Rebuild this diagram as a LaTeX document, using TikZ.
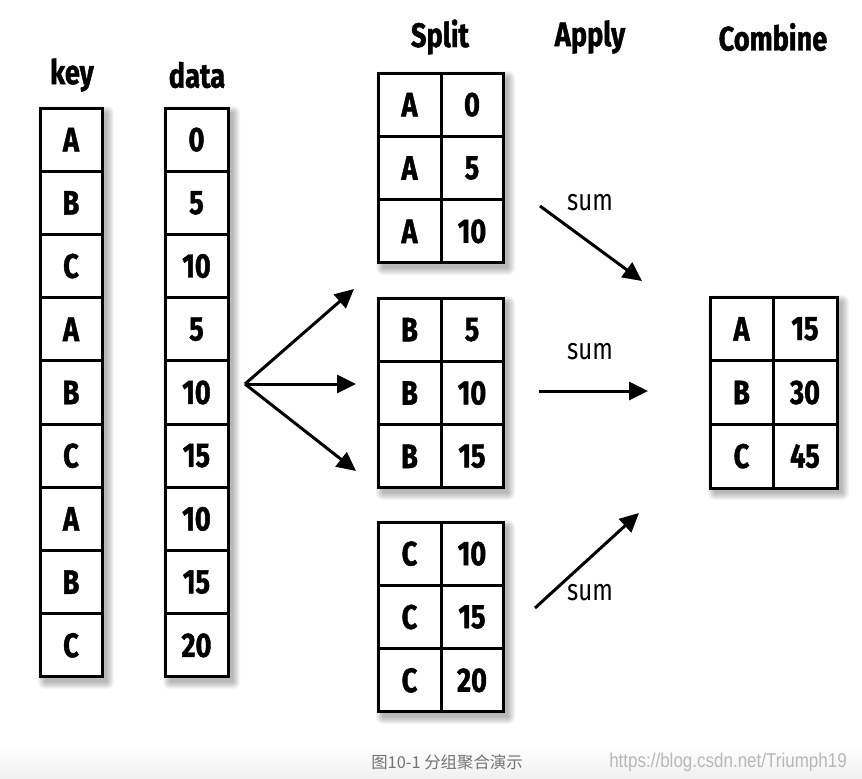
\documentclass[tikz,border=0pt]{standalone}
\usepackage{fontspec}
\setmainfont[FakeStretch=0.8,BoldFeatures={FakeBold=1.2}]{Fira Sans}
\newfontfamily\cjk{Noto Sans CJK SC}
\newfontfamily\wmfont[FakeStretch=0.85]{Liberation Sans}
\usetikzlibrary{arrows.meta,calc}
\newcommand\softshadow[4]{%
  \foreach \s in {0,1,...,7}{\fill[black,opacity=0.04,rounded corners=\s pt] (#1+5-\s,#2+5-\s) rectangle (#3+5+\s,#4+5+\s);}%
  \fill[white] (#1,#2) rectangle (#3,#4);}
\begin{document}
\begin{tikzpicture}[x=1pt,y=-1pt,
  cell/.style={draw,line width=3pt,inner sep=0pt,minimum width=#1,minimum height=63.2pt,
    font=\fontsize{34}{34}\selectfont\bfseries},
  head/.style={inner sep=0pt,font=\fontsize{34}{34}\selectfont\bfseries},
  sumlab/.style={inner sep=0pt,font=\fontsize{30}{30}\selectfont},
  arr/.style={line width=3pt,-{Triangle[length=19pt,width=18pt]}}]
\useasboundingbox (0,0) rectangle (862,779);
\shade[top color=white,bottom color=black!6] (0,745) rectangle (862,779);
% headers
\node[head] (hkey) at (72,75) {key};
\node[head] (hdata) at (197,75) {data};
\node[head] (hsplit) at (440,37) {Split};
\node[head] (happly) at (590,37) {Apply};
\node[head] (hcomb) at (773,37) {Combine};
% shadows
\softshadow{40}{108}{102}{677}
\softshadow{165}{108}{228}{677}
\softshadow{378}{73}{503}{263}
\softshadow{378}{298}{503}{488}
\softshadow{378}{522}{503}{712}
\softshadow{710}{297}{837}{488}
% key and data columns
\foreach \k [count=\i] in {A,B,C,A,B,C,A,B,C}
  \node[cell=62pt] (k\i) at (71,{108+63.22*(\i-0.5)}) {\k};
\foreach \d [count=\i] in {0,5,10,5,10,15,10,15,20}
  \node[cell=63pt] (d\i) at (196.5,{108+63.22*(\i-0.5)}) {\d};
% split tables
\foreach \t/\top/\ka/\va/\vb/\vc in {a/73/A/0/5/10, b/298/B/5/10/15, c/522/C/10/15/20}{
  \node[cell=63pt,minimum height=63.33pt] (\t k1) at (409.5,{\top+63.33*0.5}) {\ka};
  \node[cell=63pt,minimum height=63.33pt] (\t k2) at (409.5,{\top+63.33*1.5}) {\ka};
  \node[cell=63pt,minimum height=63.33pt] (\t k3) at (409.5,{\top+63.33*2.5}) {\ka};
  \node[cell=62pt,minimum height=63.33pt] (\t v1) at (472,{\top+63.33*0.5}) {\va};
  \node[cell=62pt,minimum height=63.33pt] (\t v2) at (472,{\top+63.33*1.5}) {\vb};
  \node[cell=62pt,minimum height=63.33pt] (\t v3) at (472,{\top+63.33*2.5}) {\vc};
}
% combine table
\foreach \k/\v [count=\i] in {A/15,B/30,C/45}{
  \node[cell=63pt,minimum height=63.67pt] (rk\i) at (741.5,{297+63.67*(\i-0.5)}) {\k};
  \node[cell=64pt,minimum height=63.67pt] (rv\i) at (805,{297+63.67*(\i-0.5)}) {\v};
}
% split arrows
\coordinate (fork) at (245,384);
\coordinate (ta) at (354,289);
\coordinate (tb) at (356,384);
\coordinate (tc) at (356,471);
\draw[arr] (fork) -- (ta);
\draw[arr] (fork) -- (tb);
\draw[arr] (fork) -- (tc);
% apply arrows
\coordinate (sa0) at (540,206); \coordinate (sa1) at (642,281);
\coordinate (sb0) at (539,391); \coordinate (sb1) at (648,391);
\coordinate (sc0) at (535,608); \coordinate (sc1) at (639,513);
\draw[arr] (sa0) -- (sa1);
\draw[arr] (sb0) -- (sb1);
\draw[arr] (sc0) -- (sc1);
\node[sumlab] (suma) at (590,203) {sum};
\node[sumlab] (sumb) at (590,352) {sum};
\node[sumlab] (sumc) at (590,593) {sum};
% caption
\node[inner sep=0pt,text=black!55,font=\cjk\fontsize{16.4}{16.4}\selectfont] (cap) at (447,762) {图10-1 分组聚合演示};
\node[inner sep=0pt,text=black!28,font=\wmfont\fontsize{20}{20}\selectfont] (wm) at (728,762) {https://blog.csdn.net/Triumph19};
\end{tikzpicture}
\end{document}
